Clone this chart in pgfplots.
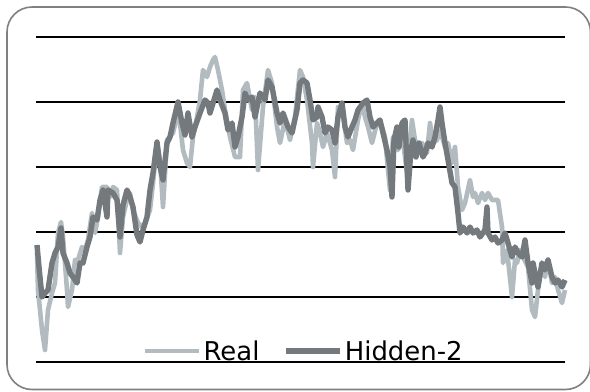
\documentclass[border=0pt]{standalone}
\usepackage{pgfplots}
\pgfplotsset{compat=1.18}
\usepackage{fontspec}
\setmainfont{DejaVu Sans}
\definecolor{realc}{RGB}{178,187,191}
\definecolor{hidc}{RGB}{116,121,126}
\definecolor{framec}{RGB}{128,128,128}
\begin{document}
\begin{tikzpicture}
\useasboundingbox (0,0) rectangle (590bp,392bp);
\draw[framec, line width=1.6bp, rounded corners=25bp] (7bp,2.5bp) rectangle (590.5bp,385bp);
\begin{axis}[
  at={(36bp,30bp)}, anchor=south west,
  scale only axis, width=529bp, height=325bp,
  xmin=36, xmax=565, ymin=37, ymax=362, y dir=reverse,
  axis line style={draw=none}, tick style={draw=none},
  xtick=\empty, ytick={37,102,167,232,297,362}, yticklabels={},
  ymajorgrids, major grid style={black, line width=1.8bp},
  clip=false,
  legend columns=2,
  legend style={at={(axis cs:143,351)}, anchor=west, draw=none, fill=none,
    inner sep=0pt, outer sep=0pt, font=\fontsize{26}{26}\selectfont,
    nodes={inner sep=2bp},
    /tikz/every even column/.append style={column sep=22bp}},
  legend image code/.code={\draw[#1] (0bp,0bp) -- (54bp,0bp);},
]
\addplot[realc, line width=4.6bp, line join=round] coordinates {
(37,253)(38,290)(42,330)(45,350)(48,310)(52,293)(55,283)(58,233)(61,222)(63,237)(67,290)(68,307)(72,290)(75,260)(78,260)(82,247)(85,250)(88,240)(92,213)(95,233)(98,217)(102,187)(107,187)(110,197)(113,187)(117,190)(120,253)(123,217)(127,200)(130,193)(133,210)(138,223)(142,227)(145,223)(150,210)(153,183)(157,143)(160,160)(163,207)(167,140)(173,133)(177,117)(180,123)(183,150)(187,163)(190,167)(193,137)(197,117)(200,100)(203,70)(207,77)(210,67)(213,60)(215,57)(218,70)(222,90)(225,110)(230,137)(235,157)(240,157)(243,90)(247,83)(252,110)(255,97)(258,170)(263,107)(268,70)(272,83)(277,127)(280,143)(285,120)(290,140)(295,117)(300,70)(303,77)(307,100)(312,143)(313,167)(317,123)(320,133)(323,147)(327,133)(332,150)(335,177)(338,107)(342,107)(347,143)(350,140)(353,150)(358,120)(362,103)(365,117)(368,127)(372,143)(377,123)(382,127)(385,137)(388,170)(390,190)(393,137)(398,150)(402,133)(407,173)(412,120)(415,140)(418,147)(422,143)(427,153)(430,123)(433,143)(437,140)(440,130)(445,147)(448,143)(452,163)(455,147)(458,187)(462,210)(465,203)(470,180)(473,197)(475,193)(478,203)(482,193)(485,200)(488,193)(492,200)(495,200)(498,200)(502,227)(503,263)(507,250)(512,297)(515,260)(517,263)(520,250)(523,257)(528,267)(532,310)(535,317)(538,290)(542,263)(545,277)(548,260)(552,283)(555,277)(558,290)(562,303)(565,290)
};
\addlegendentry{Real}
\addplot[hidc, line width=5.4bp, line join=round] coordinates {
(37,245)(39,267)(42,297)(45,293)(48,290)(52,263)(55,253)(58,247)(61,228)(63,253)(67,263)(70,273)(73,277)(77,283)(80,263)(83,263)(87,247)(90,237)(93,217)(97,220)(100,200)(103,190)(107,217)(108,190)(113,193)(117,200)(120,237)(123,205)(127,190)(130,197)(133,207)(137,235)(140,242)(143,230)(147,217)(150,190)(153,173)(157,142)(160,167)(163,180)(167,143)(170,137)(173,123)(178,102)(182,123)(185,135)(188,113)(192,137)(195,127)(200,113)(205,100)(208,103)(210,113)(217,90)(220,100)(225,113)(228,130)(232,123)(235,147)(238,137)(242,117)(245,93)(248,100)(252,97)(255,117)(260,93)(265,100)(268,80)(272,87)(277,113)(280,123)(283,113)(288,127)(292,133)(297,110)(300,83)(303,80)(307,83)(310,100)(313,120)(317,117)(318,107)(322,117)(325,133)(328,127)(332,130)(335,143)(338,117)(342,103)(345,127)(348,137)(352,127)(355,120)(358,110)(363,103)(367,100)(370,117)(373,127)(377,123)(380,120)(383,133)(387,150)(390,167)(392,197)(394,140)(397,127)(399,147)(402,123)(405,120)(408,190)(411,150)(413,140)(416,157)(419,143)(423,157)(425,153)(428,143)(432,147)(435,137)(438,120)(440,107)(442,123)(445,143)(448,160)(452,183)(455,187)(458,213)(460,233)(463,227)(467,233)(470,227)(473,233)(477,230)(480,237)(485,230)(487,207)(488,233)(492,240)(495,237)(498,243)(502,240)(505,233)(508,243)(512,257)(515,247)(518,253)(522,257)(525,240)(528,263)(532,283)(533,263)(535,273)(538,287)(542,263)(545,270)(548,260)(552,277)(555,283)(558,280)(562,287)(565,280)
};
\addlegendentry{Hidden-2}
\end{axis}
\end{tikzpicture}
\end{document}
